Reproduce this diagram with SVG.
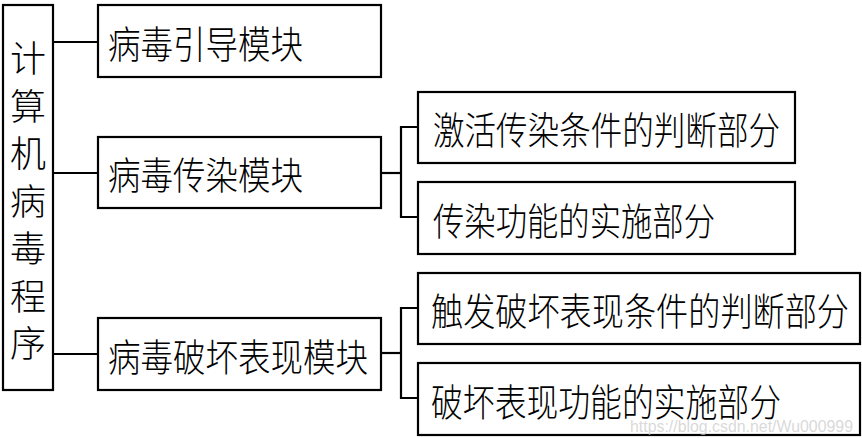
<svg xmlns="http://www.w3.org/2000/svg" width="862" height="438" viewBox="0 0 862 438">
<style>
.box{fill:#fff;stroke:#000;stroke-width:2.2}
.t{font-family:"Noto Sans CJK SC","Noto Sans CJK JP",sans-serif;font-size:38px;font-weight:300;fill:#000;dominant-baseline:central}
.v{font-size:36px}
.c{fill:none;stroke:#000;stroke-width:2.2}
.wm{font-family:"Liberation Sans",Arial,sans-serif;font-size:17px;fill:#c8c8c8;fill-opacity:0.7}
</style>
<rect width="862" height="438" fill="#fff"/>
<g id="connectors">
<line class="c" x1="53" y1="42" x2="98" y2="42"/>
<line class="c" x1="53" y1="173" x2="98" y2="173"/>
<line class="c" x1="53" y1="354" x2="98" y2="354"/>
<line class="c" x1="381" y1="173" x2="401" y2="173"/>
<polyline class="c" points="418,127 401,127 401,217 418,217"/>
<line class="c" x1="381" y1="353" x2="401" y2="353"/>
<polyline class="c" points="418,308 401,308 401,398 418,398"/>
</g>
<g id="root">
<rect class="box" x="3" y="5" width="50" height="385"/>
<text class="t v" text-anchor="middle">
<tspan x="28" y="56">计</tspan><tspan x="28" y="103.5">算</tspan><tspan x="28" y="151">机</tspan><tspan x="28" y="198.5">病</tspan><tspan x="28" y="246">毒</tspan><tspan x="28" y="293.5">程</tspan><tspan x="28" y="341">序</tspan>
</text>
</g>
<g id="m1">
<rect class="box" x="98" y="5" width="283" height="72"/>
<text class="t" x="108" y="41.5" textLength="195" lengthAdjust="spacingAndGlyphs">病毒引导模块</text>
</g>
<g id="m2">
<rect class="box" x="98" y="137" width="283" height="71"/>
<text class="t" x="108" y="172.5" textLength="195" lengthAdjust="spacingAndGlyphs">病毒传染模块</text>
</g>
<g id="m3">
<rect class="box" x="98" y="318" width="283" height="72"/>
<text class="t" x="108" y="354" textLength="260" lengthAdjust="spacingAndGlyphs">病毒破坏表现模块</text>
</g>
<g id="r1">
<rect class="box" x="418" y="92" width="377" height="71"/>
<text class="t" x="433" y="127.5" textLength="347" lengthAdjust="spacingAndGlyphs">激活传染条件的判断部分</text>
</g>
<g id="r2">
<rect class="box" x="418" y="182" width="377" height="72"/>
<text class="t" x="433" y="218" textLength="282" lengthAdjust="spacingAndGlyphs">传染功能的实施部分</text>
</g>
<g id="r3">
<rect class="box" x="418" y="273" width="442" height="71"/>
<text class="t" x="431" y="308.5" textLength="418" lengthAdjust="spacingAndGlyphs">触发破坏表现条件的判断部分</text>
</g>
<g id="r4">
<rect class="box" x="418" y="363" width="442" height="72"/>
<text class="t" x="431" y="399" textLength="350" lengthAdjust="spacingAndGlyphs">破坏表现功能的实施部分</text>
</g>
<text class="wm" x="630" y="432" textLength="223" lengthAdjust="spacingAndGlyphs">https://blog.csdn.net/Wu000999</text>
</svg>
